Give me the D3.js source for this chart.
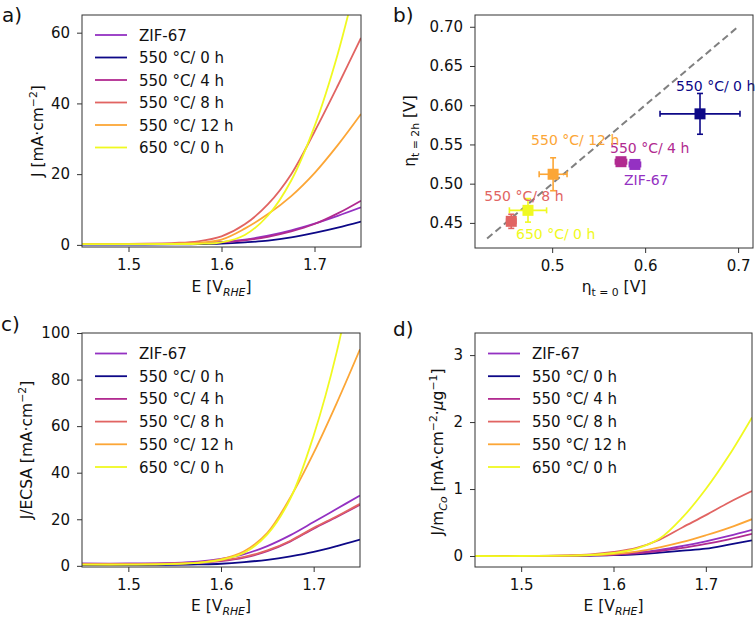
<!DOCTYPE html>
<html><head><meta charset="utf-8">
<script src="https://cdn.jsdelivr.net/npm/d3@7"></script>
<style>
html,body{margin:0;padding:0;background:#fff;}
svg text{font-family:"DejaVu Sans",sans-serif;}
</style></head>
<body><svg id="chart" width="756" height="618"></svg>
<script>
// ---------------- DATA ----------------
const seriesNames = ["ZIF-67", "550 °C/ 0 h", "550 °C/ 4 h", "550 °C/ 8 h", "550 °C/ 12 h", "650 °C/ 0 h"];
const seriesColors = ["#9431c2", "#0d0887", "#b12a90", "#e16462", "#fca636", "#f0f921"];
const potentialE = [1.45, 1.50, 1.55, 1.575, 1.60, 1.625, 1.65, 1.675, 1.70, 1.725, 1.75];

// (a) geometric current density J [mA cm^-2], one row per series
const jGeometric = [
  [0.2, 0.2, 0.3, 0.45, 0.8, 1.5, 2.6, 4.1, 6.0, 8.2, 10.6],
  [0.1, 0.1, 0.15, 0.2, 0.35, 0.7, 1.2, 2.1, 3.4, 4.9, 6.6],
  [0.2, 0.2, 0.3, 0.45, 0.75, 1.3, 2.3, 3.8, 5.9, 8.9, 12.5],
  [0.3, 0.3, 0.55, 1.0, 2.4, 5.8, 11.5, 20.0, 32.0, 45.0, 58.5],
  [0.2, 0.2, 0.35, 0.6, 1.5, 4.6, 8.7, 13.8, 20.3, 28.2, 37.0],
  [0.2, 0.2, 0.25, 0.3, 0.7, 2.8, 8.3, 18.2, 33.5, 54.0, 80.0]
];
// (c) ECSA-normalised J/ECSA [mA cm^-2]
const jEcsa = [
  [1.0, 1.0, 1.3, 1.8, 3.0, 5.0, 8.5, 13.2, 18.8, 24.5, 30.2],
  [0.3, 0.3, 0.4, 0.6, 0.9, 1.6, 2.6, 4.1, 6.0, 8.5, 11.3],
  [0.8, 0.8, 1.0, 1.3, 2.0, 3.5, 6.3, 10.5, 16.0, 21.0, 26.2],
  [0.8, 0.8, 1.0, 1.4, 2.3, 3.8, 6.6, 10.8, 16.3, 21.3, 26.6],
  [0.6, 0.6, 0.9, 1.4, 2.9, 6.3, 14.2, 29.5, 48.5, 70.0, 93.0],
  [0.5, 0.5, 0.8, 1.3, 2.6, 5.6, 13.5, 29.0, 56.0, 92.0, 140.0]
];
// (d) Co-mass-normalised J/m_Co [mA cm^-2 ug^-1]
const jMassCo = [
  [0, 0, 0.005, 0.01, 0.025, 0.05, 0.09, 0.15, 0.22, 0.30, 0.39],
  [0, 0, 0.002, 0.005, 0.012, 0.025, 0.05, 0.08, 0.11, 0.17, 0.235],
  [0, 0, 0.003, 0.008, 0.018, 0.04, 0.075, 0.12, 0.18, 0.25, 0.33],
  [0, 0, 0.01, 0.025, 0.06, 0.12, 0.245, 0.43, 0.61, 0.80, 0.97],
  [0, 0, 0.005, 0.012, 0.03, 0.065, 0.13, 0.21, 0.31, 0.42, 0.55],
  [0, 0, 0.005, 0.015, 0.045, 0.11, 0.26, 0.58, 1.00, 1.50, 2.07]
];
// (b) overpotentials
const etaT0 = [0.589, 0.659, 0.574, 0.456, 0.501, 0.474];
const etaT2h = [0.5245, 0.589, 0.528, 0.452, 0.512, 0.466];
const etaT0Err = [0.006, 0.043, 0.006, 0.005, 0.015, 0.020];
const etaT2hErr = [0.003, 0.026, 0.003, 0.009, 0.021, 0.015];

const eTicks = [1.5, 1.6, 1.7];
const aTicks = [0, 20, 40, 60];
const cTicks = [0, 20, 40, 60, 80, 100];
const dTicks = [0, 1, 2, 3];
const bXTicks = [0.5, 0.6, 0.7];
const bYTicks = [0.45, 0.50, 0.55, 0.60, 0.65, 0.70];

// ---------------- DRAW ----------------
const svg = d3.select("#chart");
const TICK_FS = 15, LAB_FS = 15.5, LEG_FS = 15;
const frameColor = "#333";

function rich(sel, parts, fs) {
  const t = sel.attr("font-size", fs);
  let shift = 0;
  parts.forEach(p => {
    let target = 0, size = fs;
    if (p.sup) { target = -0.42 * fs; size = fs * 0.7; }
    if (p.sub) { target = 0.28 * fs; size = fs * 0.7; }
    const ts = t.append("tspan").text(p.t).attr("font-size", size).attr("dy", target - shift);
    if (p.it) ts.attr("font-style", "italic");
    shift = target;
  });
}

function styleAxis(g) {
  g.select(".domain").remove();
  g.selectAll(".tick line").attr("stroke", frameColor).attr("stroke-width", 1);
  g.selectAll(".tick text").attr("font-size", TICK_FS).attr("fill", "#111")
    .attr("font-family", "DejaVu Sans, sans-serif");
}

function frame(box, id) {
  svg.append("defs").append("clipPath").attr("id", id)
    .append("rect").attr("x", box.x0).attr("y", box.y0)
    .attr("width", box.x1 - box.x0).attr("height", box.y1 - box.y0);
}

function curvePanel(box, yDomain, yTicks, rows, id, leg) {
  const x = d3.scaleLinear().domain([1.45, 1.75]).range([box.x0, box.x1]);
  const y = d3.scaleLinear().domain(yDomain).range([box.y1, box.y0]);
  frame(box, id);
  const gx = svg.append("g").attr("transform", `translate(0,${box.y1})`)
    .call(d3.axisBottom(x).tickValues(eTicks).tickFormat(d3.format(".1f")).tickSize(5).tickPadding(7));
  styleAxis(gx);
  const gy = svg.append("g").attr("transform", `translate(${box.x0},0)`)
    .call(d3.axisLeft(y).tickValues(yTicks).tickFormat(d3.format("d")).tickSize(5).tickPadding(7));
  styleAxis(gy);
  const line = d3.line().x((d, i) => x(potentialE[i])).y(d => y(d)).curve(d3.curveCatmullRom.alpha(0.5));
  const lg = svg.append("g").attr("clip-path", `url(#${id})`);
  rows.forEach((r, i) => {
    lg.append("path").attr("d", line(r)).attr("fill", "none")
      .attr("stroke", seriesColors[i]).attr("stroke-width", 1.8);
  });
  // legend
  seriesNames.forEach((n, i) => {
    const yy = leg.y + i * leg.dy;
    svg.append("line").attr("x1", leg.x).attr("x2", leg.x + 32).attr("y1", yy).attr("y2", yy)
      .attr("stroke", seriesColors[i]).attr("stroke-width", 1.8);
    svg.append("text").attr("x", leg.x + 44).attr("y", yy + 5.5).attr("font-size", LEG_FS)
      .attr("fill", "#111").text(n);
  });
  svg.append("rect").attr("x", box.x0).attr("y", box.y0).attr("width", box.x1 - box.x0)
    .attr("height", box.y1 - box.y0).attr("fill", "none").attr("stroke", frameColor).attr("stroke-width", 1);
  // x label
  rich(svg.append("text").attr("x", (box.x0 + box.x1) / 2).attr("y", box.xlabY)
    .attr("text-anchor", "middle").attr("fill", "#111"),
    [{t: "E [V"}, {t: "RHE", sub: true, it: true}, {t: "]"}], LAB_FS);
}

// panel a
const boxA = {x0: 82, x1: 361, y0: 15, y1: 247, xlabY: 292};
curvePanel(boxA, [-0.6, 65], aTicks, jGeometric, "clipA", {x: 95, y: 35, dy: 22.5});
rich(svg.append("text").attr("transform", "translate(43,131) rotate(-90)").attr("text-anchor", "middle").attr("fill", "#111"),
  [{t: "J [mA·cm"}, {t: "−2", sup: true}, {t: "]"}], LAB_FS);

// panel c
const boxC = {x0: 82, x1: 360, y0: 333, y1: 567, xlabY: 611};
curvePanel(boxC, [-0.5, 100], cTicks, jEcsa, "clipC", {x: 95, y: 353.5, dy: 22.7});
rich(svg.append("text").attr("transform", "translate(32,450) rotate(-90)").attr("text-anchor", "middle").attr("fill", "#111"),
  [{t: "J/ECSA [mA·cm"}, {t: "−2", sup: true}, {t: "]"}], LAB_FS);

// panel d
const boxD = {x0: 475, x1: 752, y0: 333, y1: 567, xlabY: 611};
curvePanel(boxD, [-0.164, 3.33], dTicks, jMassCo, "clipD", {x: 488, y: 353.5, dy: 22.7});
rich(svg.append("text").attr("transform", "translate(443,452) rotate(-90)").attr("text-anchor", "middle").attr("fill", "#111"),
  [{t: "J/m"}, {t: "Co", sub: true, it: true}, {t: " [mA·cm"}, {t: "−2", sup: true}, {t: "·"}, {t: "μ", it: true}, {t: "g"}, {t: "−1", sup: true}, {t: "]"}], LAB_FS);

// panel b
(function () {
  const box = {x0: 475, x1: 753, y0: 15, y1: 248};
  const x = d3.scaleLinear().domain([0.417, 0.716]).range([box.x0, box.x1]);
  const y = d3.scaleLinear().domain([0.418, 0.715]).range([box.y1, box.y0]);
  frame(box, "clipB");
  styleAxis(svg.append("g").attr("transform", `translate(0,${box.y1})`)
    .call(d3.axisBottom(x).tickValues(bXTicks).tickFormat(d3.format(".1f")).tickSize(5).tickPadding(7)));
  styleAxis(svg.append("g").attr("transform", `translate(${box.x0},0)`)
    .call(d3.axisLeft(y).tickValues(bYTicks).tickFormat(d3.format(".2f")).tickSize(5).tickPadding(7)));
  const g = svg.append("g").attr("clip-path", "url(#clipB)");
  g.append("line").attr("x1", x(0.43)).attr("y1", y(0.43)).attr("x2", x(0.70)).attr("y2", y(0.70))
    .attr("stroke", "#808080").attr("stroke-width", 2).attr("stroke-dasharray", "7,4");
  const order = [1, 2, 0, 4, 5, 3];
  order.forEach(i => {
    const c = seriesColors[i];
    const cx = x(etaT0[i]), cy = y(etaT2h[i]);
    const xl = x(etaT0[i] - etaT0Err[i]), xr = x(etaT0[i] + etaT0Err[i]);
    const yt = y(etaT2h[i] + etaT2hErr[i]), yb = y(etaT2h[i] - etaT2hErr[i]);
    const eb = g.append("g").attr("stroke", c).attr("stroke-width", 1.6);
    eb.append("line").attr("x1", xl).attr("x2", xr).attr("y1", cy).attr("y2", cy);
    eb.append("line").attr("x1", cx).attr("x2", cx).attr("y1", yt).attr("y2", yb);
    eb.append("line").attr("x1", xl).attr("x2", xl).attr("y1", cy - 3).attr("y2", cy + 3);
    eb.append("line").attr("x1", xr).attr("x2", xr).attr("y1", cy - 3).attr("y2", cy + 3);
    eb.append("line").attr("x1", cx - 3).attr("x2", cx + 3).attr("y1", yt).attr("y2", yt);
    eb.append("line").attr("x1", cx - 3).attr("x2", cx + 3).attr("y1", yb).attr("y2", yb);
    g.append("rect").attr("x", cx - 5.5).attr("y", cy - 5.5).attr("width", 11).attr("height", 11).attr("fill", c);
  });
  // annotation offsets (px) from each marker
  const lblOff = [[-11, 21], [-24, -23], [-11, -9], [-27, -20], [-22, -29], [-12, 29]];
  seriesNames.forEach((n, i) => {
    svg.append("text").attr("x", x(etaT0[i]) + lblOff[i][0]).attr("y", y(etaT2h[i]) + lblOff[i][1])
      .attr("font-size", 14).attr("fill", seriesColors[i]).text(n);
  });
  svg.append("rect").attr("x", box.x0).attr("y", box.y0).attr("width", box.x1 - box.x0)
    .attr("height", box.y1 - box.y0).attr("fill", "none").attr("stroke", frameColor).attr("stroke-width", 1);
  rich(svg.append("text").attr("x", (box.x0 + box.x1) / 2).attr("y", 292).attr("text-anchor", "middle").attr("fill", "#111"),
    [{t: "η"}, {t: "t = 0", sub: true}, {t: " [V]"}], LAB_FS);
  rich(svg.append("text").attr("transform", "translate(415,131) rotate(-90)").attr("text-anchor", "middle").attr("fill", "#111"),
    [{t: "η"}, {t: "t = 2h", sub: true}, {t: " [V]"}], LAB_FS);
})();

// panel letters
[["a)", 2, 22], ["b)", 393, 22], ["c)", 1, 331], ["d)", 393, 336]].forEach(([t, px, py]) => {
  svg.append("text").attr("x", px).attr("y", py).attr("font-size", 20)
    .attr("font-family", "Liberation Sans, Arial, sans-serif").attr("fill", "#111").text(t);
});
</script>
</body></html>
